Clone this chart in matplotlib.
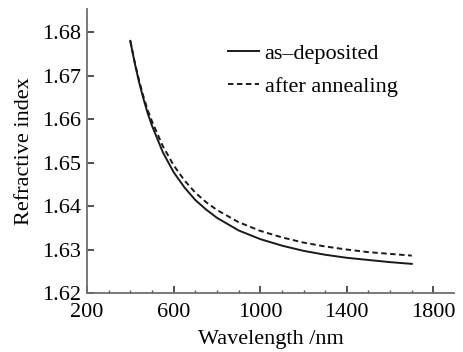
import matplotlib
matplotlib.use("Agg")
import matplotlib.pyplot as plt
from matplotlib.ticker import MultipleLocator

plt.rcParams['font.family'] = ['Liberation Serif', 'DejaVu Serif']

wavelength = [400, 420, 440, 460, 480, 500, 550, 600, 650, 700, 750, 800, 900, 1000,
              1100, 1200, 1300, 1400, 1500, 1600, 1700]
as_deposited = [1.6780, 1.6730, 1.6686, 1.6648, 1.6614, 1.6585, 1.6524, 1.6478, 1.6443,
                1.6414, 1.6392, 1.6373, 1.6344, 1.6324, 1.6309, 1.6297, 1.6288, 1.6281,
                1.6276, 1.6271, 1.6267]
after_annealing = [1.6780, 1.6732, 1.6690, 1.6653, 1.6621, 1.6595, 1.6538, 1.6494, 1.6459,
                   1.6431, 1.6409, 1.6391, 1.6363, 1.6343, 1.6328, 1.6316, 1.6307, 1.6300,
                   1.6294, 1.6290, 1.6286]
x_ticks = [200, 600, 1000, 1400, 1800]
y_ticks = [1.62, 1.63, 1.64, 1.65, 1.66, 1.67, 1.68]

fig = plt.figure(figsize=(4.64, 3.52), dpi=100)
ax = fig.add_axes([0.1875, 0.1676, 0.7905, 0.8064])

ax.plot(wavelength, as_deposited, color='#1a1a1a', lw=1.4, label='as\u2013deposited')
ax.plot(wavelength, after_annealing, color='#1a1a1a', lw=1.4, dashes=(2.8, 1.8), label='after annealing')

ax.set_xlim(200, 1894)
ax.set_ylim(1.62, 1.6853)
ax.set_xticks(x_ticks)
ax.set_xticklabels([str(v) for v in x_ticks])
ax.xaxis.set_minor_locator(MultipleLocator(100))
ax.set_yticks(y_ticks)
ax.set_yticklabels([f"{v:.2f}" for v in y_ticks])

for s in ['top', 'right']:
    ax.spines[s].set_visible(False)
for s in ['left', 'bottom']:
    ax.spines[s].set_color('#6e6e6e')
    ax.spines[s].set_linewidth(1.3)

ax.tick_params(axis='both', which='major', direction='in', length=5, width=1.2,
               color='#333333', labelsize=16)
ax.tick_params(axis='x', which='major', pad=7)
ax.tick_params(axis='y', which='major', pad=4)
ax.tick_params(axis='x', which='minor', direction='in', length=2.5, width=1.0, color='#555555')

ax.set_xlabel('Wavelength /nm', fontsize=16, labelpad=6)
ax.set_ylabel('Refractive index', fontsize=16, labelpad=6)

leg = ax.legend(loc='upper left', bbox_to_anchor=(0.36, 0.91), frameon=False, fontsize=16,
                handlelength=1.4, handletextpad=0.25, labelspacing=0.55, borderaxespad=0)

fig.savefig('out.png', dpi=100)
